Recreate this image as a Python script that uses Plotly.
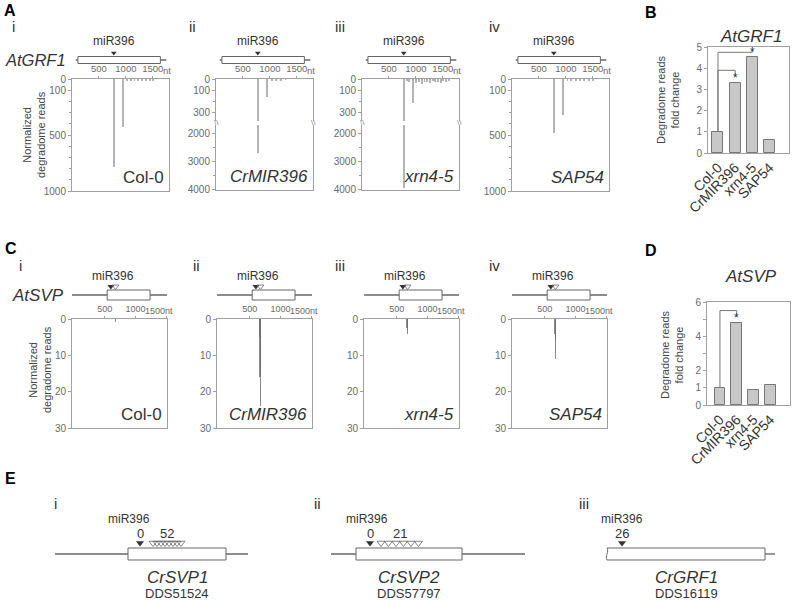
import plotly.graph_objects as go

W, H = 795, 600
FONT = "Liberation Sans, Arial, sans-serif"
TICK_C = "#6a6a6a"
LINE_C = "#a0a0a0"
TEXT_C = "#333333"
GENE_C = "#666666"
BAR_A = "#b4b4b4"
BAR_C = "rgba(110,110,110,0.8)"

# ---------------- data ----------------
strains = ["Col-0", "CrMIR396", "xrn4-5", "SAP54"]
strain_labels = ["Col-0", "<i>CrMIR396</i>", "<i>xrn4-5</i>", "<i>SAP54</i>"]

# A: AtGRF1 transcript (nt) and degradome reads
grf1_span = [70, 1750]
grf1_cds = [110, 1640]
grf1_site = 775

grf1_col_pos = [775, 945, 1020, 1090, 1160, 1230, 1300, 1370, 1440, 1510]
grf1_col_reads = [790, 430, 14, 10, 18, 12, 20, 9, 15, 11]
grf1_cr_pos = [775, 945, 1040, 1120, 1210, 1290]
grf1_cr_reads = [2680, 160, 12, 9, 14, 8]
grf1_xrn_pos = [775, 945, 830, 880, 1010, 1060, 1110, 1160, 1210, 1260,
                1310, 1360, 1410, 1460, 1510, 1560, 1610]
grf1_xrn_reads = [3960, 212, 20, 30, 35, 25, 40, 30, 28, 38, 22, 30, 26, 34, 20, 24, 18]
grf1_sap_pos = [775, 945, 1030, 1100, 1180, 1260, 1340, 1420, 1500]
grf1_sap_reads = [482, 321, 12, 15, 10, 18, 12, 9, 14]

# B: fold change AtGRF1
grf1_fold = [1.0, 3.28, 4.55, 0.6]
grf1_sig = [("xrn4-5", 4.75), ("CrMIR396", 3.9)]

# C: AtSVP transcript and degradome reads
svp_span = [-30, 1510]
svp_cds = [540, 1235]
svp_site = 600
svp_alt = [675]

svp_col_pos = [672]
svp_col_reads = [0.7]
svp_cr_pos = [664, 668, 672, 676]
svp_cr_reads = [5, 16, 24, 14]
svp_xrn_pos = [666, 670, 674]
svp_xrn_reads = [2.5, 4, 3]
svp_sap_pos = [668, 672, 676]
svp_sap_reads = [4, 11, 6]

# D: fold change AtSVP
svp_fold = [1.0, 4.8, 0.85, 1.15]
svp_sig = [("CrMIR396", 5.5)]

# E: target genes (relative positions)
crsvp1_span = [-365, 600]
crsvp1_cds = [0, 490]
crsvp1_site = 60
crsvp1_alt = [125, 145, 165, 185, 205, 225, 245, 265]
crsvp1_nums = ["0", "52"]

crsvp2_span = [-125, 845]
crsvp2_cds = [0, 530]
crsvp2_site = 70
crsvp2_alt = [125, 162, 200, 237, 275, 312]
crsvp2_nums = ["0", "21"]

crgrf1_span = [790, 840]
crgrf1_cds = [0, 790]
crgrf1_site = 75
crgrf1_nums = ["26"]

# ---------------- figure ----------------
fig = go.Figure()
layout = dict(template="none", width=W, height=H, margin=dict(l=0, r=0, t=0, b=0, pad=0),
              plot_bgcolor="rgba(0,0,0,0)", paper_bgcolor="white", showlegend=False,
              font=dict(family=FONT, size=11, color=TEXT_C), bargap=0)
annotations, shapes = [], []
n_ax = 0


def new_axes(left, right, top, bottom, xa, ya):
    global n_ax
    n_ax += 1
    s = "" if n_ax == 1 else str(n_ax)
    layout["xaxis" + s] = dict(domain=[left / W, right / W], anchor="y" + s, automargin=False, **xa)
    layout["yaxis" + s] = dict(domain=[1 - bottom / H, 1 - top / H], anchor="x" + s, automargin=False, **ya)
    return "x" + s, "y" + s


def txt(x, y, s, size=11, color=TEXT_C, **kw):
    kw.setdefault("yanchor", "middle")
    kw.setdefault("xanchor", "center")
    annotations.append(dict(x=x / W, y=1 - y / H, xref="paper", yref="paper", text=s,
                            showarrow=False, font=dict(size=size, color=color, family=FONT), **kw))


def read_axis(rng, tickvals, minor=None, mirror=True):
    ax = dict(range=rng, tickvals=tickvals, ticks="outside", ticklen=3, tickcolor=LINE_C,
              showline=True, linecolor=LINE_C, mirror=mirror, showgrid=False, zeroline=False,
              tickfont=dict(size=10, color=TICK_C))
    if minor:
        ax["minor"] = dict(tickmode="linear", tick0=0, dtick=minor, ticks="outside",
                           ticklen=2, tickcolor=LINE_C, showgrid=False)
    return ax


def nt_axis(rng, labels, mirror=True, size=9.5):
    return dict(range=rng, side="top", tickvals=[500, 1000, 1500], ticktext=labels, ticks="outside",
                ticklen=2, tickcolor=LINE_C, showline=True, linecolor=LINE_C, mirror=mirror,
                showgrid=False, zeroline=False, tickfont=dict(size=size, color=TICK_C))


def bars(xa, ya, pos, reads, color, width):
    fig.add_trace(go.Bar(x=pos, y=reads, width=width, xaxis=xa, yaxis=ya,
                         marker=dict(color=color, line=dict(width=0))))


def gene(gx, gy, span, cds, site, alt, half, tri_y, tri_size, wavy=False):
    shapes.append(dict(type="line", xref=gx, yref=gy, x0=span[0], x1=span[1], y0=0, y1=0,
                       line=dict(color=GENE_C, width=1.3), layer="below"))
    if wavy:
        x0, x1 = cds
        w = (x1 - x0) * 0.015
        path = (f"M {x0},{half} L {x1},{half} L {x1},{-half} L {x0},{-half} "
                f"C {x0 - w},{-half / 3} {x0 + w},{half / 3} {x0},{half}")
        shapes.append(dict(type="path", xref=gx, yref=gy, path=path, fillcolor="white",
                           line=dict(color=GENE_C, width=1), layer="below"))
    else:
        shapes.append(dict(type="rect", xref=gx, yref=gy, x0=cds[0], x1=cds[1], y0=-half, y1=half,
                           fillcolor="white", line=dict(color=GENE_C, width=1), layer="below"))
    fig.add_trace(go.Scatter(x=[site], y=[tri_y], mode="markers", xaxis=gx, yaxis=gy,
                             marker=dict(symbol="triangle-down", size=tri_size, color="#333333")))
    if alt:
        fig.add_trace(go.Scatter(x=alt, y=[tri_y] * len(alt), mode="markers", xaxis=gx, yaxis=gy,
                                 marker=dict(symbol="triangle-down-open", size=tri_size,
                                             color="#666666", line=dict(width=0.8))))


def hidden(rng):
    return dict(range=rng, visible=False, fixedrange=True, showgrid=False, zeroline=False)


# ---------- panel A ----------
txt(2, 11, "<b>A</b>", 16, "#000", xanchor="left")
a_left = [72, 216, 362, 512]
a_pos = [grf1_col_pos, grf1_cr_pos, grf1_xrn_pos, grf1_sap_pos]
a_reads = [grf1_col_reads, grf1_cr_reads, grf1_xrn_reads, grf1_sap_reads]
a_roman = [(10, "i"), (187, "ii"), (333, "iii"), (487, "iv")]
A_XR = [0, 1800]
for k in range(4):
    left, right = a_left[k], a_left[k] + 97
    txt(a_roman[k][0], 26, a_roman[k][1], 15, TEXT_C, xanchor="left")
    if k in (0, 3):
        xa, ya = new_axes(left, right, 79, 191, nt_axis(A_XR, ["500", "1000", "1500"]),
                          read_axis([1000, 0], [0, 100, 500, 1000], 100))
        bars(xa, ya, a_pos[k], a_reads[k], BAR_A, 18)
        lx, ly = xa, ya
    else:
        xa, ya = new_axes(left, right, 79, 121, nt_axis(A_XR, ["500", "1000", "1500"], mirror=False),
                          read_axis([371, 0], [0, 100, 300], 100))
        bars(xa, ya, a_pos[k], a_reads[k], BAR_A, 18)
        xb, yb = new_axes(left, right, 125, 189.5,
                          dict(range=A_XR, showline=True, linecolor=LINE_C, showticklabels=False,
                               ticks="", showgrid=False, zeroline=False),
                          read_axis([4000, 1676], [2000, 3000, 4000], 500))
        bars(xb, yb, a_pos[k], a_reads[k], BAR_A, 18)
        lx, ly = xb, yb
        for bx in (left, right):
            txt(bx, 123, "\\\\", 8, "#888")
    annotations.append(dict(x=1, y=0, xref=lx + " domain", yref=ly + " domain", xanchor="right",
                            yanchor="bottom", xshift=-3, yshift=2, text=strain_labels[k],
                            showarrow=False, font=dict(size=17, color=TEXT_C)))
    annotations.append(dict(x=A_XR[1], y=1, xref=xa, yref=ya + " domain", yanchor="bottom",
                            xanchor="center", xshift=-2, yshift=1, text="nt", showarrow=False,
                            font=dict(size=9.5, color=TICK_C)))
    gx, gy = new_axes(left, right, 30, 70, hidden(A_XR), hidden([-10, 30]))
    gene(gx, gy, grf1_span, grf1_cds, grf1_site, None, 3.5, 7, 5)
    annotations.append(dict(x=grf1_site, y=19, xref=gx, yref=gy, text="miR396", showarrow=False,
                            font=dict(size=12, color=TEXT_C)))
    if k == 0:
        annotations.append(dict(x=68 / W, y=0, xref="paper", yref=gy, xanchor="right",
                                text="<i>AtGRF1</i>", showarrow=False, font=dict(size=16.5, color=TEXT_C)))
txt(34, 135, "Normalized<br>degradome reads", 11, "#444", textangle=-90)

# ---------- panel B ----------
txt(643, 12, "<b>B</b>", 16, "#000", xanchor="left")


def fold_panel(left, right, top, bottom, xr, yr, ytv, minor_vals, vals, sig, title, ty):
    ya_d = dict(range=yr, tickvals=ytv, ticks="outside", ticklen=3, tickcolor=LINE_C,
                showline=True, linecolor=LINE_C, mirror=True, showgrid=False,
                zeroline=False, tickfont=dict(size=10, color=TICK_C))
    if minor_vals:
        ya_d["minor"] = dict(tickvals=minor_vals, ticks="outside", ticklen=3, tickcolor=LINE_C,
                             showgrid=False)
    xa, ya = new_axes(left, right, top, bottom,
                      dict(range=xr, type="category", categoryorder="array", categoryarray=strains,
                           tickmode="array", tickvals=strains, ticktext=strains,
                           tickangle=-45, showline=True, linecolor=LINE_C, mirror=True, ticks="",
                           showgrid=False, tickfont=dict(size=14, color=TEXT_C)),
                      ya_d)
    fig.add_trace(go.Bar(x=strains, y=vals, width=0.64, xaxis=xa, yaxis=ya,
                         marker=dict(color="#c8c8c8", line=dict(color="#777777", width=1))))
    for target, h in sig:
        v = vals[strains.index(target)]
        fig.add_trace(go.Scatter(x=[strains[0], strains[0], target, target],
                                 y=[vals[0], h, h, v + 0.35], mode="lines", xaxis=xa, yaxis=ya,
                                 line=dict(color="#777777", width=1)))
        annotations.append(dict(x=target, y=v, xref=xa, yref=ya, yanchor="bottom", text="*",
                                showarrow=False, yshift=-4, font=dict(size=12, color=TEXT_C)))
    txt((left + right) / 2 + 2, ty, "<i>" + title + "</i>", 17, TEXT_C)
    return xa, ya


fold_panel(708, 789, 47, 153, [-0.58, 4.13], [0, 5], [0, 1, 2, 3, 4, 5], None,
           grf1_fold, grf1_sig, "AtGRF1", 37)
txt(668, 100, "Degradome reads<br>fold change", 11, "#444", textangle=-90)

# ---------- panel C ----------
txt(3, 248, "<b>C</b>", 16, "#000", xanchor="left")
c_left = [72, 217, 364, 512]
c_pos = [svp_col_pos, svp_cr_pos, svp_xrn_pos, svp_sap_pos]
c_reads = [svp_col_reads, svp_cr_reads, svp_xrn_reads, svp_sap_reads]
c_roman = [(17, "i"), (191, "ii"), (333, "iii"), (487, "iv")]
C_XR = [-30, 1510]
for k in range(4):
    left, right = c_left[k], c_left[k] + 95
    txt(c_roman[k][0], 265, c_roman[k][1], 15, TEXT_C, xanchor="left")
    xa, ya = new_axes(left, right, 319, 428, nt_axis(C_XR, ["500", "1000", ""], size=9),
                      read_axis([30, 0], [0, 10, 20, 30]))
    bars(xa, ya, c_pos[k], c_reads[k], BAR_C, 20)
    annotations.append(dict(x=1, y=0, xref=xa + " domain", yref=ya + " domain", xanchor="right",
                            yanchor="bottom", xshift=-3, yshift=2, text=strain_labels[k],
                            showarrow=False, font=dict(size=17, color=TEXT_C)))
    annotations.append(dict(x=1, y=1, xref=xa + " domain", yref=ya + " domain", yanchor="bottom",
                            xanchor="right", xshift=8, yshift=1, text="1500nt", showarrow=False,
                            font=dict(size=9, color=TICK_C)))
    gx, gy = new_axes(left, right, 266, 305, hidden(C_XR), hidden([-10, 29]))
    gene(gx, gy, svp_span, svp_cds, svp_site, svp_alt, 5, 8.5, 6)
    annotations.append(dict(x=svp_site + 40, y=19, xref=gx, yref=gy, text="miR396", showarrow=False,
                            font=dict(size=12, color=TEXT_C)))
    if k == 0:
        annotations.append(dict(x=66 / W, y=0, xref="paper", yref=gy, xanchor="right",
                                text="<i>AtSVP</i>", showarrow=False, font=dict(size=17, color=TEXT_C)))
txt(40, 370, "Normalized<br>degradome reads", 11, "#444", textangle=-90)

# ---------- panel D ----------
txt(643, 250, "<b>D</b>", 16, "#000", xanchor="left")
fold_panel(707, 790, 302, 405, [-0.77, 4.17], [0, 6], [0, 1, 2, 4, 6], [3, 5],
           svp_fold, svp_sig, "AtSVP", 276)
txt(672, 355, "Degradome reads<br>fold change", 11, "#444", textangle=-90)

# ---------- panel E ----------
txt(3, 478, "<b>E</b>", 16, "#000", xanchor="left")
e_roman = [(52, "i"), (312, "ii"), (577, "iii")]
e_dom = [(55, 250, 128), (331, 526, 356), (600, 780, 607)]
e_span = [crsvp1_span, crsvp2_span, crgrf1_span]
e_cds = [crsvp1_cds, crsvp2_cds, crgrf1_cds]
e_site = [crsvp1_site, crsvp2_site, crgrf1_site]
e_alt = [crsvp1_alt, crsvp2_alt, None]
e_nums = [crsvp1_nums, crsvp2_nums, crgrf1_nums]
e_names = ["CrSVP1", "CrSVP2", "CrGRF1"]
e_ids = ["DDS51524", "DDS57797", "DDS16119"]
e_mir_dx = [-55, -15, 0]
for k in range(3):
    txt(e_roman[k][0], 503, e_roman[k][1], 15, TEXT_C, xanchor="left")
    l, r, o = e_dom[k]
    gx, gy = new_axes(l, r, 505, 600, hidden([(l - o) * 5, (r - o) * 5]), hidden([-46, 49]))
    gene(gx, gy, e_span[k], e_cds[k], e_site[k], e_alt[k], 6, 11, 7, wavy=(k == 2))
    annotations.append(dict(x=e_site[k] + e_mir_dx[k], y=35, xref=gx, yref=gy, text="miR396",
                            showarrow=False, font=dict(size=12, color=TEXT_C)))
    annotations.append(dict(x=e_site[k], y=21, xref=gx, yref=gy, text=e_nums[k][0], showarrow=False,
                            font=dict(size=13, color=TEXT_C)))
    if e_alt[k]:
        mid = (e_alt[k][0] + e_alt[k][-1]) / 2
        annotations.append(dict(x=mid, y=21, xref=gx, yref=gy, text=e_nums[k][1], showarrow=False,
                                font=dict(size=13, color=TEXT_C)))
    cx = (e_cds[k][0] + e_cds[k][1]) / 2
    annotations.append(dict(x=cx, y=-23, xref=gx, yref=gy, text="<i>" + e_names[k] + "</i>",
                            showarrow=False, font=dict(size=17, color=TEXT_C)))
    annotations.append(dict(x=cx, y=-39, xref=gx, yref=gy, text=e_ids[k], showarrow=False,
                            font=dict(size=13, color=TEXT_C)))

layout["annotations"] = annotations
layout["shapes"] = shapes
fig.update_layout(**layout)
# the page body has a default 8px margin; drop it so the figure sits at the window origin
fig.write_html("out.html", config={"displayModeBar": False},
               post_script="document.body.style.margin='0px';")
